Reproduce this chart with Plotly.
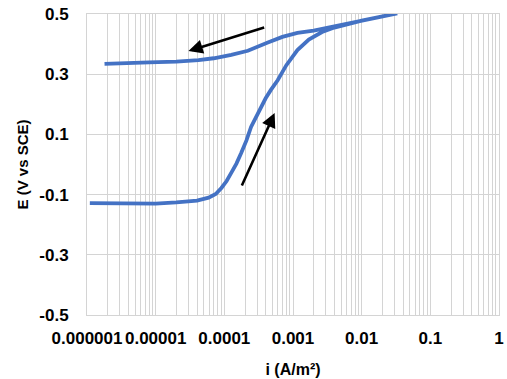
import plotly.graph_objects as go
import math

# Forward scan (lower branch, rising)
i_fwd = [1.1e-6, 2e-6, 5e-6, 1e-5, 2e-5, 4e-5, 5.9e-5, 7.5e-5, 9.06e-5, 1.08e-4, 1.26e-4,
         1.5e-4, 1.76e-4, 2.1e-4, 2.45e-4, 2.9e-4, 3.4e-4, 4.0e-4, 4.74e-4, 5.98e-4,
         8.0e-4, 1.16e-3, 1.7e-3, 2.65e-3, 4.0e-3, 6.1e-3, 1.0e-2, 1.39e-2, 2.2e-2, 3.3e-2]
E_fwd = [-0.128, -0.129, -0.131, -0.130, -0.126, -0.120, -0.110, -0.098, -0.078, -0.055, -0.028,
         0.003, 0.038, 0.080, 0.125, 0.160, 0.190, 0.220, 0.247, 0.280,
         0.330, 0.380, 0.415, 0.440, 0.455, 0.467, 0.478, 0.485, 0.494, 0.502]
# Reverse scan (upper branch, returning)
i_rev = [3.3e-2, 1.39e-2, 6.1e-3, 3.5e-3, 2.0e-3, 1.16e-3, 7.0e-4, 4.3e-4, 3.0e-4, 2.2e-4,
         1.26e-4, 7.0e-5, 4.2e-5, 2.0e-5, 8.0e-6, 3.5e-6, 1.8e-6]
E_rev = [0.502, 0.485, 0.467, 0.455, 0.445, 0.437, 0.424, 0.405, 0.390, 0.378,
         0.364, 0.353, 0.347, 0.342, 0.339, 0.336, 0.334]

x_ticks = [1e-6, 1e-5, 1e-4, 1e-3, 1e-2, 1e-1, 1]
x_tick_text = ["0.000001", "0.00001", "0.0001", "0.001", "0.01", "0.1", "1"]
y_ticks = [-0.5, -0.3, -0.1, 0.1, 0.3, 0.5]
y_tick_text = ["-0.5", "-0.3", "-0.1", "0.1", "0.3", "0.5"]

# Arrow endpoints (data coords): (tail_i, tail_E, tip_i, tip_E)
arrow_rev = (4.0e-4, 0.457, 3.0e-5, 0.377)
arrow_fwd = (1.76e-4, -0.075, 5.4e-4, 0.171)

minor_vals = [m * 10**d for d in range(-6, 0) for m in range(2, 10)]

GRID = "#d4d4d4"
FONT = "Liberation Sans, Arial, sans-serif"

fig = go.Figure()
fig.add_trace(go.Scatter(x=i_fwd + i_rev, y=E_fwd + E_rev, mode="lines",
                         line=dict(color="#4472C4", width=3.8), showlegend=False))

for (ti, tE, hi, hE) in [arrow_rev, arrow_fwd]:
    fig.add_annotation(x=math.log10(hi), y=hE, ax=math.log10(ti), ay=tE,
                       xref="x", yref="y", axref="x", ayref="y",
                       showarrow=True, arrowhead=2, arrowsize=1.1, arrowwidth=2.6,
                       arrowcolor="black", text="")

fig.update_layout(
    width=507, height=379,
    margin=dict(l=87, r=3, t=14, b=64),
    paper_bgcolor="white", plot_bgcolor="white",
    font=dict(family=FONT, size=15, color="black"),
)
fig.update_xaxes(type="log", range=[-6, 0], tickvals=x_ticks, ticktext=x_tick_text,
                 showgrid=True, gridcolor=GRID, gridwidth=1,
                 minor=dict(tickvals=minor_vals, showgrid=True, gridcolor=GRID, gridwidth=1),
                 showline=True, linecolor=GRID, linewidth=1, mirror=True,
                 ticks="", tickfont=dict(family=FONT, size=17, weight="bold"),
                 ticklabelstandoff=8, ticklabeloverflow="allow",
                 title=dict(text="<b>i (A/m²)</b>", font=dict(family=FONT, size=16), standoff=16),
                 zeroline=False)
fig.update_yaxes(range=[-0.5, 0.5], tickvals=y_ticks, ticktext=y_tick_text,
                 showgrid=True, gridcolor=GRID, gridwidth=1,
                 showline=True, linecolor=GRID, linewidth=1, mirror=True,
                 ticks="", tickfont=dict(family=FONT, size=17, weight="bold"),
                 ticklabelstandoff=14,
                 title=dict(text="<b>E (V vs SCE)</b>", font=dict(family=FONT, size=15), standoff=7),
                 zeroline=False)

fig.write_html("out.html")
